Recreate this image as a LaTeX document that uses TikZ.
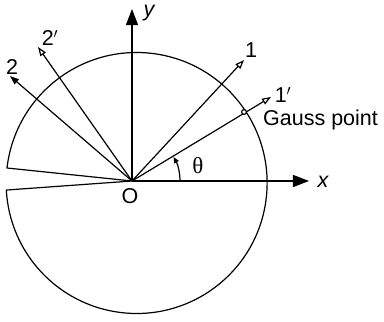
\documentclass[tikz,border=0pt]{standalone}
\usepackage{fontspec}
\setmainfont{Liberation Sans}
\newfontfamily\thetafont{Liberation Serif}
\usetikzlibrary{arrows.meta}

\tikzset{
  lbl/.style={inner sep=0pt, font=\fontsize{21.5}{25}\selectfont},
  axis/.style={line width=1.3pt, -{Triangle[length=16pt,width=12pt]}},
  dirvec/.style={line width=1.2pt, -{Triangle[open,length=9pt,width=6.5pt]}},
  dirsolid/.style={line width=1.2pt, -{Triangle[length=9pt,width=6.5pt]}},
}

\begin{document}
\begin{tikzpicture}[x=1pt,y=1pt,line join=round]
  % Frame of the artwork, crack tip at the origin.
  \useasboundingbox (-132,-141) rectangle (252,181);

  % Crack tip and the cracked disc.
  \coordinate (O) at (0,0);
  \coordinate (ctr) at (5,-2);
  \coordinate (cu) at (-125,13);
  \coordinate (cl) at (-125,-9);

  % Tips of axes and direction vectors.
  \coordinate (xtip) at (177,0);
  \coordinate (ytip) at (0,172);
  \coordinate (d1) at (112,121);
  \coordinate (d1p) at (139,84);
  \coordinate (d2) at (-122,105);
  \coordinate (d2p) at (-94,134);
  \coordinate (gp) at (112,69);

  % Disc with the crack faces.
  \draw[line width=1.2pt] (O) -- (cu) arc[start angle=173.4, end angle=-176.9, radius=130.5] -- (cl) -- cycle;

  % Axes.
  \draw[axis] (O) -- (xtip);
  \draw[axis] (O) -- (ytip);

  % Directions before and after.
  \draw[dirvec] (O) -- (d1);
  \draw[dirvec] (O) -- (d1p);
  \draw[dirsolid] (O) -- (d2);
  \draw[dirvec] (O) -- (d2p);

  % Gauss point marker.
  \draw[line width=1.2pt, fill=white] (gp) circle[radius=2.4pt];

  % Angle theta.
  \draw[line width=1.2pt, -{Triangle[length=6pt,width=5pt]}] (48,0) arc[start angle=0, end angle=30, radius=48];

  % Labels.
  \node[lbl] (lx) at (191,-1) {\itshape x};
  \node[lbl] (ly) at (17,168) {\itshape y};
  \node[lbl] (lO) at (-2,-15) {O};
  \node[lbl] (l1) at (119,131) {1};
  \node[lbl] (l1p) at (151,86) {1$'$};
  \node[lbl] (l2) at (-120,114) {2};
  \node[lbl] (l2p) at (-82,143) {2$'$};
  \node[lbl, anchor=west] (lgp) at (131,61) {Gauss point};
  \node[lbl] (lth) at (66,15) {\thetafont\fontsize{23}{26}\selectfont θ};
\end{tikzpicture}
\end{document}
